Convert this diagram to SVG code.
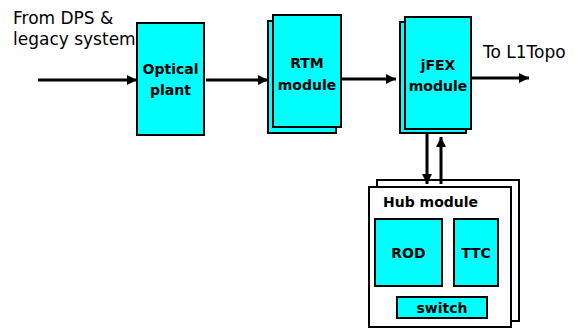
<svg xmlns="http://www.w3.org/2000/svg" width="578" height="329" viewBox="0 0 578 329">
  <defs>
    <marker id="arrow" viewBox="0 0 10 10" refX="10" refY="5" markerWidth="3.4" markerHeight="3.4" orient="auto" markerUnits="strokeWidth">
      <path d="M0,0 L10,5 L0,10 z" fill="#000"/>
    </marker>
    <style>
      .box { fill: #00ffff; stroke: #000; stroke-width: 2; }
      .card { fill: #fff; stroke: #000; stroke-width: 2; }
      .lbl { font-family: "DejaVu Sans", Verdana, sans-serif; font-weight: bold; font-size: 14px; fill: #000; text-anchor: middle; }
      .note { font-family: "DejaVu Sans", Verdana, sans-serif; font-size: 17px; fill: #000; }
      .conn { stroke: #000; stroke-width: 3; fill: none; marker-end: url(#arrow); }
    </style>
  </defs>
  <rect width="578" height="329" fill="#fff"/>

  <text class="note" x="13" y="24">From DPS &amp;</text>
  <text class="note" x="13" y="45">legacy system</text>
  <text class="note" x="483" y="58">To L1Topo</text>

  <g id="optical-plant">
    <rect class="box" x="137" y="23" width="67" height="112"/>
    <text class="lbl" x="170.5" y="74">Optical</text>
    <text class="lbl" x="170.5" y="95">plant</text>
  </g>

  <g id="rtm-module">
    <rect class="box" x="268" y="21" width="68" height="112"/>
    <rect class="box" x="273" y="15" width="68" height="112"/>
    <text class="lbl" x="307" y="68">RTM</text>
    <text class="lbl" x="307" y="90">module</text>
  </g>

  <g id="jfex-module">
    <rect class="box" x="400" y="22" width="66" height="111"/>
    <rect class="box" x="405" y="17" width="66" height="112"/>
    <text class="lbl" x="438" y="70">jFEX</text>
    <text class="lbl" x="438" y="91">module</text>
  </g>

  <g id="hub-module">
    <rect class="card" x="377" y="180" width="142" height="141"/>
    <rect class="card" x="369" y="187" width="142" height="140"/>
    <text class="lbl" x="383" y="207" style="text-anchor:start">Hub module</text>
    <g id="rod">
      <rect class="box" x="375" y="219" width="67" height="67"/>
      <text class="lbl" x="408.5" y="258">ROD</text>
    </g>
    <g id="ttc">
      <rect class="box" x="454" y="219" width="44" height="67"/>
      <text class="lbl" x="476" y="258">TTC</text>
    </g>
    <g id="switch">
      <rect class="box" x="397" y="297" width="90" height="21"/>
      <text class="lbl" x="442" y="313">switch</text>
    </g>
  </g>

  <g id="connectors">
    <line class="conn" x1="38" y1="80" x2="137" y2="80"/>
    <line class="conn" x1="206" y1="80" x2="268" y2="80"/>
    <line class="conn" x1="342" y1="79" x2="396" y2="79"/>
    <line class="conn" x1="472" y1="78" x2="529" y2="78"/>
    <line class="conn" x1="427" y1="134" x2="427" y2="184"/>
    <line class="conn" x1="441" y1="184" x2="441" y2="137"/>
  </g>
</svg>
